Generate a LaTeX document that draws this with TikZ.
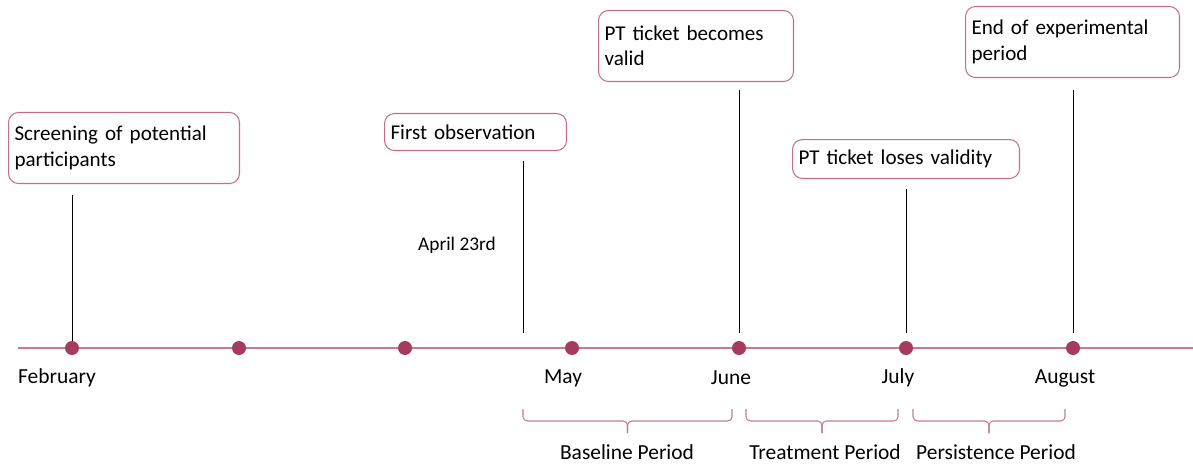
\documentclass[tikz,border=0pt]{standalone}
\usepackage{fontspec}
\setmainfont{Carlito}
\usepackage{xcolor}
\usepackage{tikz}
\usetikzlibrary{positioning}
\definecolor{linepink}{RGB}{200,120,150}
\definecolor{boxpink}{RGB}{195,110,140}
\definecolor{dotred}{RGB}{165,60,95}
\tikzset{
	evbox/.style={draw=boxpink, line width=0.6pt, rounded corners=0.2cm, align=left, inner xsep=0.12cm, anchor=north west, font=\fontsize{12}{14.5}\selectfont},
	mdot/.style={circle, fill=dotred, inner sep=0pt, minimum size=0.28cm},
	mlabel/.style={font=\fontsize{12.2}{14.5}\selectfont},
	stem/.style={black, line width=0.4pt},
	period/.style={linepink, line width=0.6pt, rounded corners=2.5pt}
}
\begin{document}
\begin{tikzpicture}[x=0.02cm, y=-0.02cm]
	\useasboundingbox (0,0) rectangle (1193,466);
	% time axis
	\coordinate (axisL) at (18,348);
	\coordinate (axisR) at (1193,348);
	\draw[linepink, line width=0.6pt] (axisL) -- (axisR);
	\foreach \i/\x in {1/72, 2/239, 3/405, 4/572, 5/739, 6/906, 7/1073}
		\node[mdot] (m\i) at (\x,348) {};
	% months
	\node[mlabel, anchor=west] (feb) at (12,378) {February};
	\node[mlabel] (may) at (563,378) {May};
	\node[mlabel] (jun) at (731,378) {June};
	\node[mlabel] (jul) at (898,378) {July};
	\node[mlabel] (aug) at (1065,378) {August};
	% events
	\node[evbox, text width=4.38cm, minimum height=1.42cm] (screen) at (8,112) {Screening of potential\\participants};
	\node[evbox, text width=3.40cm, minimum height=0.74cm] (first) at (384,113) {First observation};
	\node[evbox, text width=3.66cm, minimum height=1.42cm] (valid) at (598,10) {PT ticket becomes\\valid};
	\node[evbox, text width=4.30cm, minimum height=0.78cm] (loses) at (792,139) {PT ticket loses validity};
	\node[evbox, text width=4.04cm, minimum height=1.42cm] (expend) at (965,6) {End of experimental\\period};
	\node[font=\fontsize{11}{13}\selectfont] (april) at (457,245) {April 23rd};
	% stems
	\coordinate (s1) at (72,195);
	\coordinate (s2t) at (523,161);  \coordinate (s2b) at (523,333);
	\coordinate (s3t) at (739,90);   \coordinate (s3b) at (739,333);
	\coordinate (s4t) at (906,189);  \coordinate (s4b) at (906,333);
	\coordinate (s5t) at (1073,90);  \coordinate (s5b) at (1073,333);
	\draw[stem] (s1) -- (m1);
	\draw[stem] (s2t) -- (s2b);
	\draw[stem] (s3t) -- (s3b);
	\draw[stem] (s4t) -- (s4b);
	\draw[stem] (s5t) -- (s5b);
	% periods
	\foreach \l/\r in {523/732, 746/898, 913/1065}{
		\pgfmathsetmacro{\m}{(\l+\r)/2}
		\draw[period] (\l,409) -- (\l,421) -- (\m,421) -- (\m,433);
		\draw[period] (\m,433) -- (\m,421) -- (\r,421) -- (\r,409);
	}
	\node[mlabel] (base) at (627,452) {Baseline Period};
	\node[mlabel] (treat) at (825,452) {Treatment Period};
	\node[mlabel] (persist) at (996,452) {Persistence Period};
\end{tikzpicture}
\end{document}
